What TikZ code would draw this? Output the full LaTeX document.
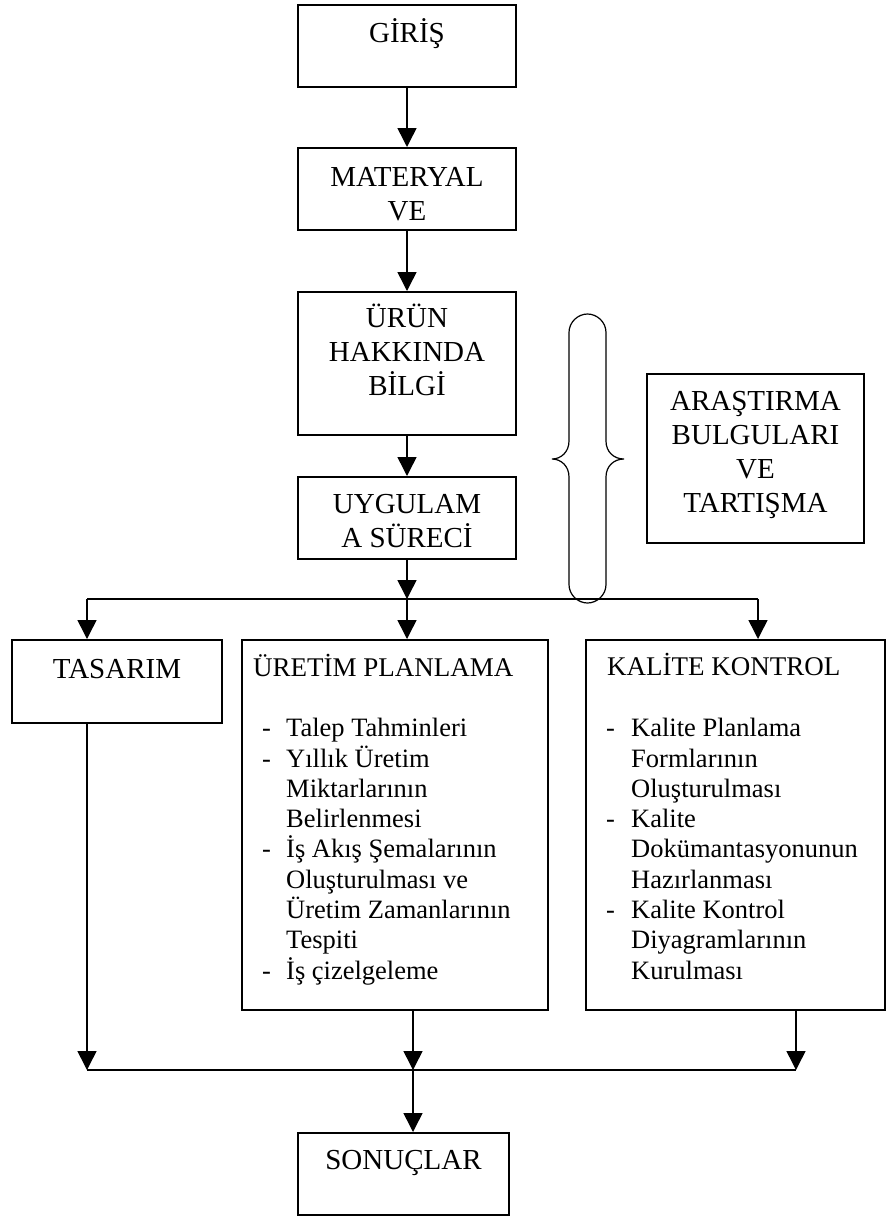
\documentclass[tikz,border=0pt]{standalone}
\usepackage{fontspec}
\setmainfont{Liberation Serif}
\usetikzlibrary{arrows.meta}
\begin{document}
\begin{tikzpicture}[x=1pt,y=-1pt,
  box/.style={draw, line width=1.6pt, inner sep=0pt, anchor=north, align=center, font=\fontsize{29}{34}\selectfont},
  plainbox/.style={draw, line width=1.6pt, inner sep=0pt, anchor=north west},
  arr/.style={line width=1.5pt, -{Triangle[width=19pt,length=19pt]}},
  ln/.style={line width=1.5pt},
  listtxt/.style={inner sep=0pt, anchor=base west, align=flush left, text width=300pt, font=\fontsize{26.5}{30.3}\selectfont},
  headtxt/.style={inner sep=0pt, anchor=base west, font=\fontsize{27}{30}\selectfont},
  bracestyle/.style={line width=1.2pt}]

\useasboundingbox (0,0) rectangle (886,1216);

% main column
\node[box, minimum width=218pt, text height=38pt, text depth=44pt] (giris) at (407,4) {GİRİŞ};
\node[box, minimum width=218pt, text height=73pt, text depth=9pt] (materyal) at (407,147) {MATERYAL\\VE};
\node[box, minimum width=218pt, text height=104pt, text depth=39pt] (urun) at (407,291) {ÜRÜN\\HAKKINDA\\BİLGİ};
\node[box, minimum width=218pt, text height=71pt, text depth=11pt] (uygulama) at (407,476) {UYGULAM\\A SÜRECİ};

% right box
\node[box, minimum width=217pt, text height=139pt, text depth=30pt] (arastirma) at (755.5,373) {ARAŞTIRMA\\BULGULARI\\VE\\TARTIŞMA};

% lower boxes
\node[box, minimum width=210pt, text height=39pt, text depth=44pt] (tasarim) at (117,639) {TASARIM};
\node[plainbox, minimum width=306pt, minimum height=370pt] (uretim) at (241,639) {};
\node[plainbox, minimum width=299pt, minimum height=370pt] (kalite) at (585,639) {};
\node[box, minimum width=211pt, text height=37pt, text depth=45pt] (sonuclar) at (403.5,1132) {SONUÇLAR};

% texts of list boxes
\node[headtxt] (uretimhead) at (253,676) {ÜRETİM PLANLAMA};
\node[listtxt] (uretimlist) at (262,736.7) {\makebox[24pt][l]{-}Talep Tahminleri\\
\makebox[24pt][l]{-}Yıllık Üretim\\
\hspace*{24pt}Miktarlarının\\
\hspace*{24pt}Belirlenmesi\\
\makebox[24pt][l]{-}İş Akış Şemalarının\\
\hspace*{24pt}Oluşturulması ve\\
\hspace*{24pt}Üretim Zamanlarının\\
\hspace*{24pt}Tespiti\\
\makebox[24pt][l]{-}İş çizelgeleme};

\node[headtxt] (kalitehead) at (607,675) {KALİTE KONTROL};
\node[listtxt] (kalitelist) at (606,736.7) {\makebox[25pt][l]{-}Kalite Planlama\\
\hspace*{25pt}Formlarının\\
\hspace*{25pt}Oluşturulması\\
\makebox[25pt][l]{-}Kalite\\
\hspace*{25pt}Dokümantasyonunun\\
\hspace*{25pt}Hazırlanması\\
\makebox[25pt][l]{-}Kalite Kontrol\\
\hspace*{25pt}Diyagramlarının\\
\hspace*{25pt}Kurulması};

% connectors, main column
\draw[arr] (giris) -- (materyal);
\draw[arr] (materyal) -- (urun);
\draw[arr] (urun) -- (uygulama);
\coordinate (jt) at (407,599);
\coordinate (jl) at (87,599);
\coordinate (jr) at (758,599);
\draw[arr] (uygulama) -- (jt);
\draw[ln] (jl) -- (jr);
\draw[arr] (jl) -- (jl |- tasarim.north);
\draw[arr] (jt) -- (jt |- uretim.north);
\draw[arr] (jr) -- (jr |- kalite.north);

% connectors, bottom
\coordinate (bl) at (87,1070);
\coordinate (bm) at (413,1070);
\coordinate (br) at (796,1070);
\draw[arr] (bl |- tasarim.south) -- (bl);
\draw[arr] (bm |- uretim.south) -- (bm);
\draw[arr] (br |- kalite.south) -- (br);
\draw[ln] (bl) -- (br);
\draw[arr] (bm) -- (bm |- sonuclar.north);

% brace
\draw[bracestyle] (569,332.5) .. controls (569,322) and (578,314) .. (587.5,314)
  .. controls (597,314) and (606,322) .. (606,332.5) -- (606,441)
  .. controls (606,452) and (614,459) .. (624,459)
  .. controls (614,459) and (606,466) .. (606,477) -- (606,584.5)
  .. controls (606,595) and (597,603) .. (587.5,603)
  .. controls (578,603) and (569,595) .. (569,584.5) -- (569,477)
  .. controls (569,466) and (561,459) .. (552,459)
  .. controls (561,459) and (569,452) .. (569,441) -- cycle;
\end{tikzpicture}
\end{document}
